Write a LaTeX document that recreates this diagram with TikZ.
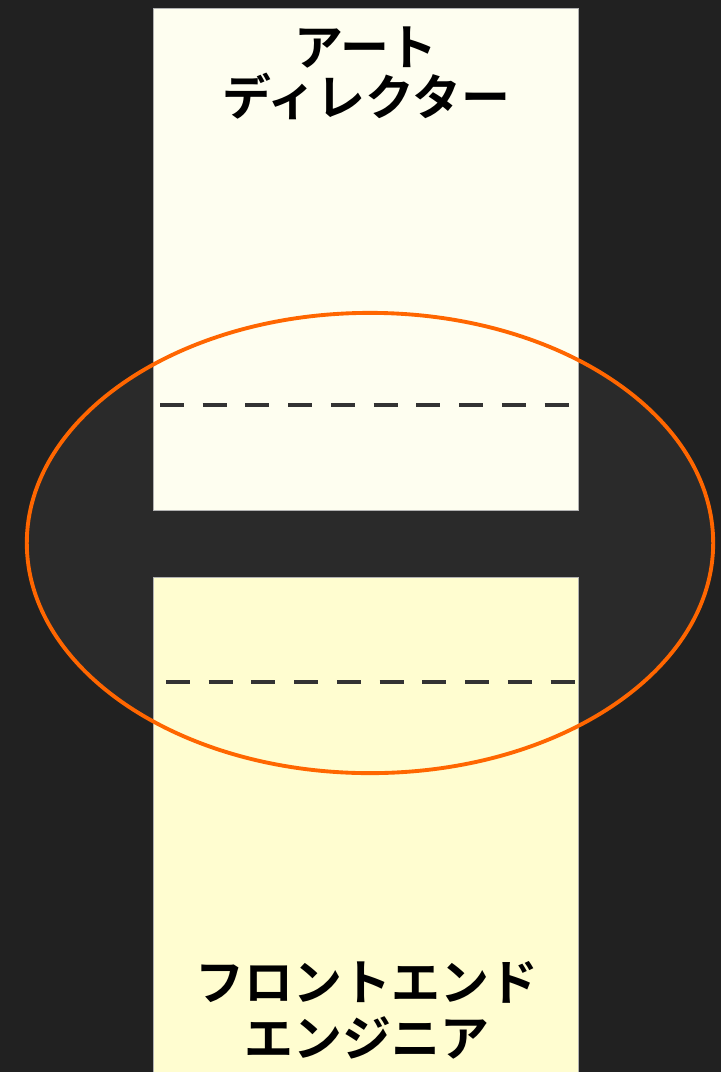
\documentclass[tikz,border=0pt]{standalone}
\usepackage{fontspec}
\usepackage{xcolor}
\usepackage{tikz}
\usetikzlibrary{positioning,shapes.geometric}
\newfontfamily\jpfont{Noto Sans CJK JP}[BoldFont={Noto Sans CJK JP Bold}]
\definecolor{bgcol}{HTML}{212121}
\definecolor{ringbg}{HTML}{2A2A2A}
\definecolor{ringcol}{HTML}{FF6600}
\definecolor{topcol}{HTML}{FEFEF0}
\definecolor{botcol}{HTML}{FFFDD0}
\definecolor{dashcol}{HTML}{333333}

\begin{document}
\begin{tikzpicture}[x=0.01cm,y=-0.01cm,
  lane/.style={draw=gray!60,line width=0.3pt,inner sep=0pt,
               minimum width=4.25cm,anchor=north west},
  lbl/.style={font=\jpfont\bfseries\fontsize{13.9}{15.9}\selectfont,
              align=center,text=black,inner sep=0pt},
  cut/.style={dashcol,line width=1.1pt,dash pattern=on 0.24cm off 0.187cm},
  ring/.style={ellipse,inner sep=0pt,minimum width=6.86cm,minimum height=4.6cm},
]
\useasboundingbox[fill=bgcol] (0,0) rectangle (721,1072);

% highlighted overlap
\node[ring,fill=ringbg] (ringfill) at (370,543) {};

% the two roles
\node[lane,fill=topcol,minimum height=5.02cm] (art) at (153,8) {};
\node[lane,fill=botcol,minimum height=5.0cm] (fe) at (153,577) {};

\node[lbl] (artlbl) at (366,73) {アート\\[-1.7pt]ディレクター};
\node[lbl] (felbl) at (367,1010) {フロントエンド\\エンジニア};

\coordinate (artcutL) at (160,405);
\coordinate (artcutR) at (570,405);
\coordinate (fecutL) at (166,682);
\coordinate (fecutR) at (576,682);
\draw[cut] (artcutL) -- (artcutR);
\draw[cut] (fecutL) -- (fecutR);

\node[ring,draw=ringcol,line width=1.1pt] (ring) at (370,543) {};
\end{tikzpicture}
\end{document}
